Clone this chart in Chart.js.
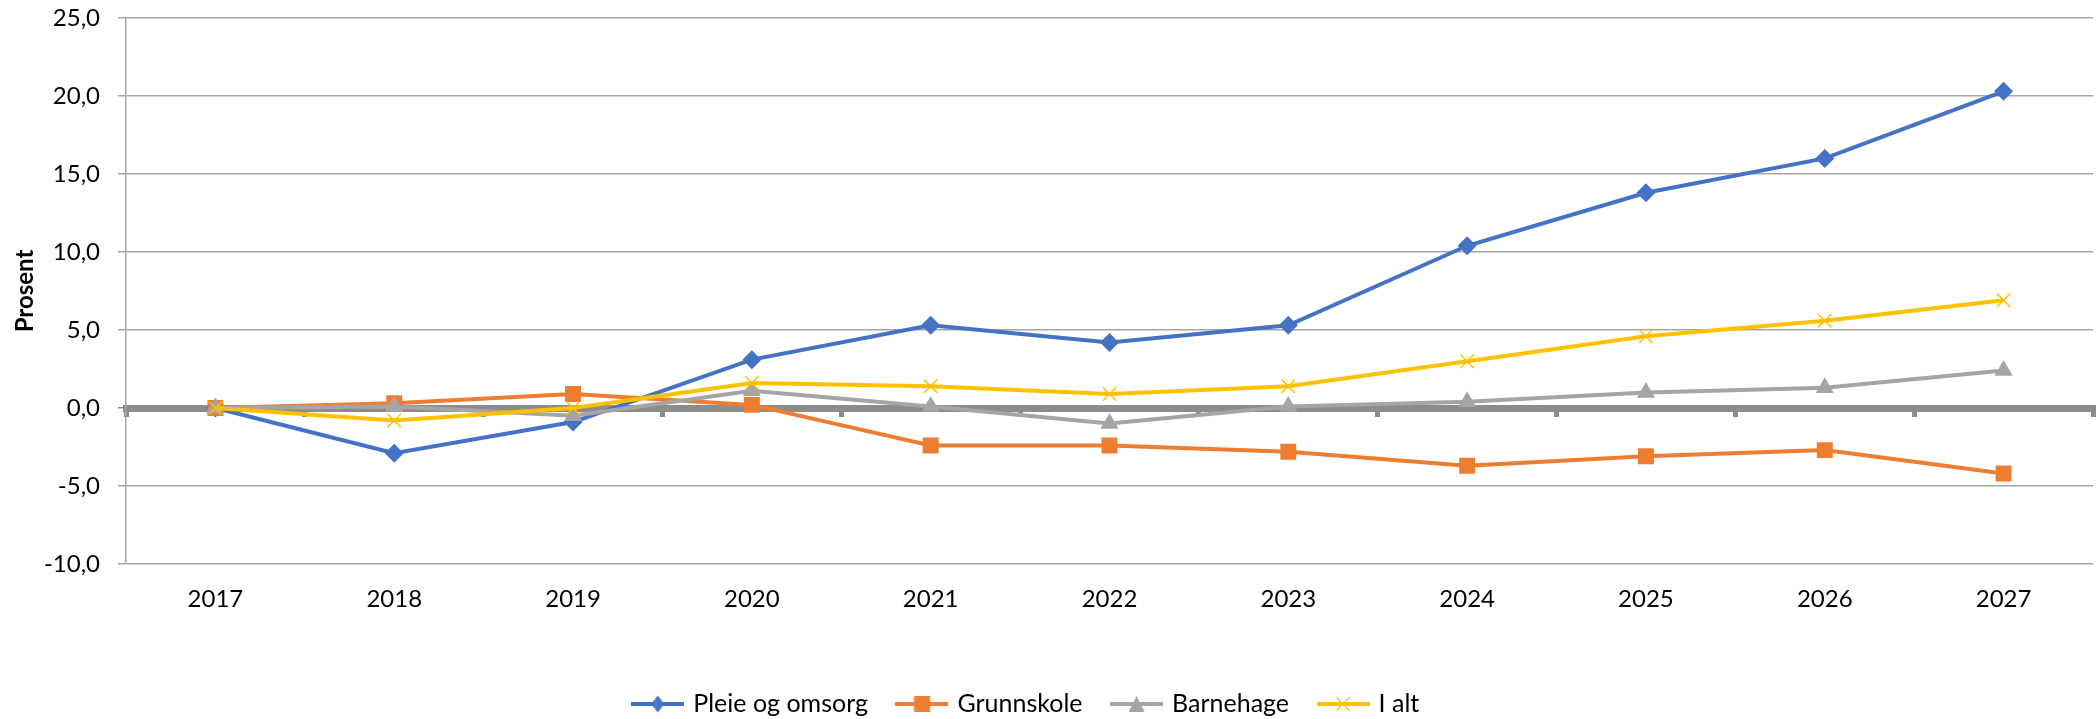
<!DOCTYPE html>
<html lang="no">
<head>
<meta charset="UTF-8">
<title>Prosent</title>
<script src="https://cdn.jsdelivr.net/npm/chart.js"></script>
<style>
  body { margin: 0; background: #fff; }
  .wrap { width: 2098px; height: 719px; }
</style>
</head>
<body>
<div class="wrap"><canvas id="chart"></canvas></div>
<script>
// data
const years = ['2017', '2018', '2019', '2020', '2021', '2022', '2023', '2024', '2025', '2026', '2027'];
const pleieOgOmsorg = [0, -2.9, -0.9, 3.1, 5.3, 4.2, 5.3, 10.4, 13.8, 16.0, 20.3];
const grunnskole = [0, 0.3, 0.9, 0.2, -2.4, -2.4, -2.8, -3.7, -3.1, -2.7, -4.2];
const barnehage = [0, 0.1, -0.5, 1.1, 0.1, -1.0, 0.1, 0.4, 1.0, 1.3, 2.4];
const iAlt = [0, -0.8, 0.0, 1.6, 1.4, 0.9, 1.4, 3.0, 4.6, 5.6, 6.9];

const BLUE = '#4472C4', ORANGE = '#ED7D31', GRAY = '#A5A5A5', YELLOW = '#FFC000';

Chart.defaults.font.family = 'Lato, "Liberation Sans", sans-serif';
Chart.defaults.font.size = 24;
Chart.defaults.color = '#000';

// legend icon: line with marker in the middle
function legendIcon(color, marker) {
    const c = document.createElement('canvas');
    c.width = 53; c.height = 20;
    const g = c.getContext('2d');
    const x = 26.5, y = 10;
    g.strokeStyle = color;
    g.fillStyle = color;
    g.lineWidth = 4;
    g.beginPath(); g.moveTo(0, y); g.lineTo(53, y); g.stroke();
    g.beginPath();
    if (marker === 'diamond') {
        g.moveTo(x, y - 8.5); g.lineTo(x + 6.5, y); g.lineTo(x, y + 8.5); g.lineTo(x - 6.5, y);
        g.closePath(); g.fill();
    } else if (marker === 'square') {
        g.rect(x - 8, y - 8, 16, 16); g.fill();
    } else if (marker === 'triangle') {
        g.moveTo(x, y - 8); g.lineTo(x + 8, y + 8); g.lineTo(x - 8, y + 8);
        g.closePath(); g.fill();
    } else {
        g.lineWidth = 1.5;
        g.moveTo(x - 6.5, y - 6.5); g.lineTo(x + 6.5, y + 6.5);
        g.moveTo(x + 6.5, y - 6.5); g.lineTo(x - 6.5, y + 6.5);
        g.stroke();
    }
    return c;
}

const icons = [
    legendIcon(BLUE, 'diamond'),
    legendIcon(ORANGE, 'square'),
    legendIcon(GRAY, 'triangle'),
    legendIcon(YELLOW, 'x')
];

// the legend in the reference sits a little left of centre
const legendShift = {
    id: 'legendShift',
    afterLayout(chart) {
        chart.legend.left -= 25;
        chart.legend.right -= 25;
    }
};

const noPad = s => { s.paddingLeft = 0; s.paddingRight = 0; s.paddingTop = 0; s.paddingBottom = 0; };

new Chart(document.getElementById('chart'), {
    type: 'line',
    data: {
        labels: years,
        datasets: [
            {
                label: 'Pleie og omsorg', data: pleieOgOmsorg,
                borderColor: BLUE, backgroundColor: BLUE, borderWidth: 4,
                pointStyle: 'rectRot', pointRadius: 9.5, pointBorderWidth: 0, order: 3
            },
            {
                label: 'Grunnskole', data: grunnskole,
                borderColor: ORANGE, backgroundColor: ORANGE, borderWidth: 4,
                pointStyle: 'rect', pointRadius: 11.3, pointBorderWidth: 0, order: 2
            },
            {
                label: 'Barnehage', data: barnehage,
                borderColor: GRAY, backgroundColor: GRAY, borderWidth: 4,
                pointStyle: 'triangle', pointRadius: 10.5, pointBorderWidth: 0, order: 1
            },
            {
                label: 'I alt', data: iAlt,
                borderColor: YELLOW, backgroundColor: YELLOW, borderWidth: 4,
                pointStyle: 'crossRot', pointRadius: 9.5, pointBorderWidth: 1.5,
                pointBorderColor: YELLOW, order: 0
            }
        ]
    },
    plugins: [legendShift],
    options: {
        responsive: true,
        maintainAspectRatio: false,
        animation: false,
        layout: { autoPadding: false, padding: { left: 11, right: 5, top: 18, bottom: -7.5 } },
        plugins: {
            tooltip: { enabled: false },
            legend: {
                position: 'bottom',
                labels: {
                    usePointStyle: true,
                    pointStyleWidth: 46,
                    padding: 31,
                    color: '#000',
                    font: { size: 25 },
                    generateLabels: chart => chart.data.datasets.map((ds, i) => ({
                        text: ds.label,
                        pointStyle: icons[i],
                        fillStyle: ds.borderColor,
                        strokeStyle: ds.borderColor,
                        lineWidth: 0,
                        hidden: false,
                        datasetIndex: i,
                        fontColor: '#000'
                    }))
                }
            }
        },
        scales: {
            x: {
                offset: true,
                grid: { display: false, drawTicks: false },
                border: { display: false },
                ticks: { padding: 21, maxRotation: 0 },
                afterFit: s => { s.height = 96.5; noPad(s); }
            },
            // thick zero line with tick marks between the years
            x2: {
                type: 'category',
                axis: 'x',
                position: { y: 0 },
                offset: true,
                ticks: { display: false },
                grid: { drawOnChartArea: false, offset: true, tickLength: 5, lineWidth: 5, color: '#8c8c8c' },
                border: { color: '#8c8c8c', width: 7 },
                afterFit: noPad
            },
            y: {
                min: -10,
                max: 25,
                ticks: {
                    stepSize: 5,
                    padding: 18,
                    callback: v => v.toFixed(1).replace('.', ',')
                },
                grid: {
                    color: c => c.tick && c.tick.value === 0 ? '#8c8c8c' : '#a6a6a6',
                    lineWidth: 1.5,
                    tickLength: 8
                },
                border: { color: '#a6a6a6', width: 1.5 },
                title: {
                    display: true,
                    text: 'Prosent',
                    font: { size: 24, weight: 'bold' },
                    padding: 0
                },
                afterFit: s => { s.width = 115; noPad(s); }
            }
        }
    }
});
</script>
</body>
</html>
